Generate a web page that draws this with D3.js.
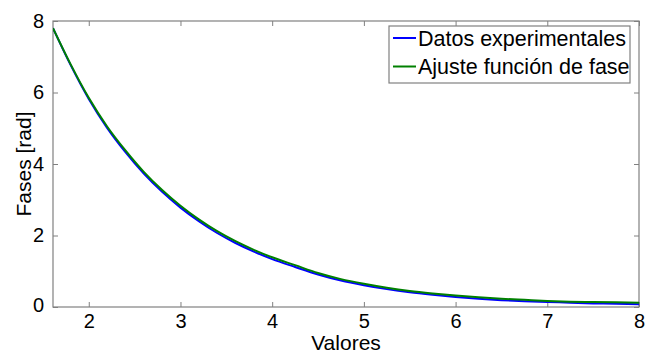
<!DOCTYPE html>
<html>
<head>
<meta charset="utf-8">
<script src="https://cdn.jsdelivr.net/npm/d3@7"></script>
<style>
  body { margin: 0; background: #fff; }
  text { font-family: "Liberation Sans", Arial, sans-serif; fill: #000; }
</style>
</head>
<body>
<svg id="chart" width="645" height="355"></svg>
<script>
// values
const xValues = [1.61, 1.8, 2.0, 2.2, 2.4, 2.6, 2.8, 3.0, 3.2, 3.4, 3.6, 3.8, 4.0, 4.25, 4.5, 4.75,
  5.0, 5.25, 5.5, 5.75, 6.0, 6.25, 6.5, 6.75, 7.0, 7.25, 7.5, 7.75, 8.0];
const datosExp = [7.80, 6.78, 5.82, 5.01, 4.33, 3.73, 3.22, 2.78, 2.40, 2.07, 1.79, 1.55, 1.34, 1.12, 0.91, 0.74,
  0.61, 0.50, 0.41, 0.34, 0.28, 0.23, 0.19, 0.16, 0.14, 0.12, 0.10, 0.09, 0.075];
const ajusteFase = [7.80, 6.80, 5.85, 5.05, 4.38, 3.78, 3.27, 2.83, 2.45, 2.12, 1.84, 1.60, 1.39, 1.17, 0.95, 0.78,
  0.65, 0.54, 0.45, 0.38, 0.32, 0.27, 0.23, 0.20, 0.17, 0.15, 0.14, 0.13, 0.12];
const xTicks = [2, 3, 4, 5, 6, 7, 8];
const yTicks = [0, 2, 4, 6, 8];
const seriesNames = ['Datos experimentales', 'Ajuste función de fase'];
const seriesColors = ['#0000ff', '#008000'];

const pLeft = 53, pRight = 639, pTop = 21, pBottom = 307;
const svg = d3.select('#chart');

const x = d3.scaleLinear().domain([1.61, 8]).range([pLeft, pRight]);
const y = d3.scaleLinear().domain([0, 8]).range([pBottom, pTop]);

svg.append('clipPath').attr('id', 'clip')
  .append('rect').attr('x', pLeft).attr('y', pTop).attr('width', pRight - pLeft).attr('height', pBottom - pTop);

const axisColor = '#808080';
const tickLen = 5;

// ticks inside the box, on all four sides
const gx = svg.append('g').attr('transform', `translate(0,${pBottom})`)
  .call(d3.axisBottom(x).tickValues(xTicks).tickFormat(d3.format('d')).tickSizeInner(-tickLen).tickSizeOuter(0).tickPadding(7));
const gxTop = svg.append('g').attr('transform', `translate(0,${pTop})`)
  .call(d3.axisTop(x).tickValues(xTicks).tickFormat('').tickSizeInner(-tickLen).tickSizeOuter(0));
const gy = svg.append('g').attr('transform', `translate(${pLeft},0)`)
  .call(d3.axisLeft(y).tickValues(yTicks).tickFormat(d3.format('d')).tickSizeInner(-tickLen).tickSizeOuter(0).tickPadding(9));
const gyR = svg.append('g').attr('transform', `translate(${pRight},0)`)
  .call(d3.axisRight(y).tickValues(yTicks).tickFormat('').tickSizeInner(-tickLen).tickSizeOuter(0));

[gx, gxTop, gy, gyR].forEach(g => {
  g.selectAll('.domain').remove();
  g.selectAll('line').attr('stroke', axisColor);
  g.selectAll('text').style('font-size', '20px').attr('fill', '#000');
});
gy.selectAll('.tick').filter(d => d === 0).select('text').attr('dy', '0.2em');

svg.append('rect')
  .attr('x', pLeft).attr('y', pTop).attr('width', pRight - pLeft).attr('height', pBottom - pTop)
  .attr('fill', 'none').attr('stroke', axisColor).attr('stroke-width', 1.2);

const line = vals => d3.line()
  .x((d, i) => x(xValues[i]))
  .y(d => y(d))
  .curve(d3.curveMonotoneX)(vals);

const plot = svg.append('g').attr('clip-path', 'url(#clip)');
[datosExp, ajusteFase].forEach((vals, i) => {
  plot.append('path')
    .attr('d', line(vals))
    .attr('fill', 'none')
    .attr('stroke', seriesColors[i])
    .attr('stroke-width', 2);
});

// legend
const lg = svg.append('g');
lg.append('rect').attr('x', 389).attr('y', 26).attr('width', 241).attr('height', 57)
  .attr('fill', '#fff').attr('stroke', axisColor).attr('stroke-width', 1.2);
seriesNames.forEach((name, i) => {
  const yy = 38 + i * 28.5;
  lg.append('line').attr('x1', 393).attr('x2', 416).attr('y1', yy).attr('y2', yy)
    .attr('stroke', seriesColors[i]).attr('stroke-width', 2);
  lg.append('text').attr('x', 418).attr('y', yy + 7.5).style('font-size', '21.5px').text(name);
});

svg.append('text').attr('x', (pLeft + pRight) / 2).attr('y', 350)
  .attr('text-anchor', 'middle').style('font-size', '21px').text('Valores');
svg.append('text').attr('transform', `translate(31,${(pTop + pBottom) / 2}) rotate(-90)`)
  .attr('text-anchor', 'middle').style('font-size', '21px').text('Fases [rad]');
</script>
</body>
</html>
